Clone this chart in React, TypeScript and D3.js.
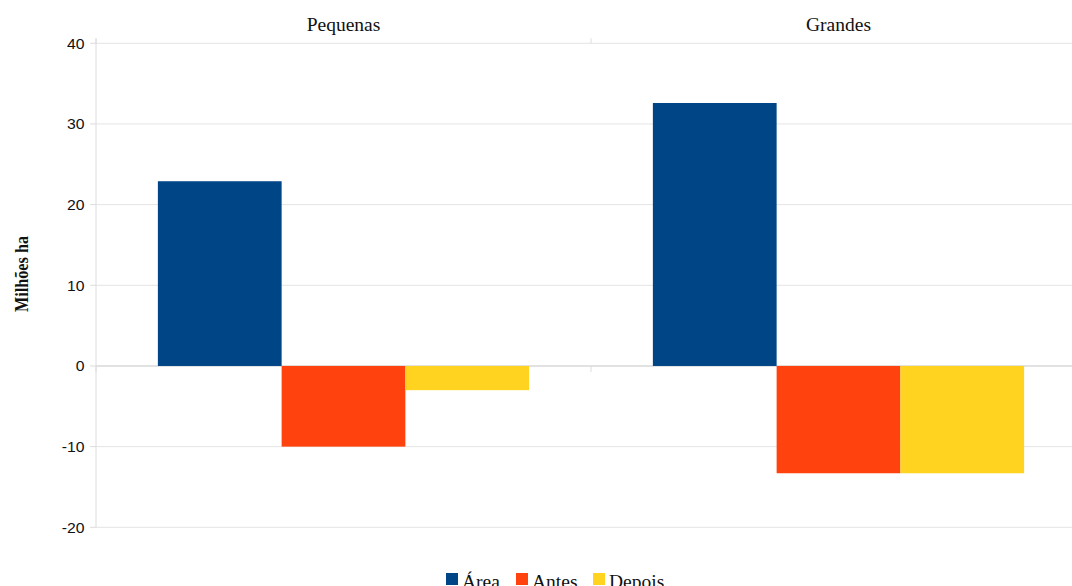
import React from "react";
import * as d3 from "d3";

const categories = ["Pequenas", "Grandes"];
const seriesNames = ["Área", "Antes", "Depois"];
const seriesColors = ["#004586", "#ff420e", "#ffd320"];
const areaValues = [22.9, 32.6];
const antesValues = [-10.0, -13.3];
const depoisValues = [-3.0, -13.3];
const yTicks = [40, 30, 20, 10, 0, -10, -20];

const W = 1072;
const H = 586;

export default function App() {
  const seriesValues = [areaValues, antesValues, depoisValues];
  const x0 = d3.scaleBand<string>().domain(categories).range([96, 1086]).paddingInner(0).paddingOuter(0);
  const x1 = d3
    .scaleBand<string>()
    .domain(seriesNames)
    .range([0, x0.bandwidth()])
    .paddingInner(0)
    .paddingOuter(0.5);
  const y = d3.scaleLinear().domain([-20, 40]).range([527.3, 43.3]);

  const boundaries = [96, ...categories.map((c) => (x0(c) as number) + x0.bandwidth())];

  const legendItems = [
    { name: seriesNames[0], x: 446 },
    { name: seriesNames[1], x: 516 },
    { name: seriesNames[2], x: 593 },
  ];

  return (
    <svg
      width={W}
      height={H}
      style={{ position: "absolute", left: 0, top: 0, background: "#fff" }}
    >
      <rect x={0} y={0} width={W} height={H} fill="#fff" />
      {/* gridlines */}
      {yTicks.map((t) => (
        <line
          key={"g" + t}
          x1={96}
          x2={1086}
          y1={y(t)}
          y2={y(t)}
          stroke={t === 0 ? "#d9d9d9" : "#e4e4e4"}
          strokeWidth={t === 0 ? 1.5 : 1}
        />
      ))}
      {/* left axis */}
      <line x1={96} x2={96} y1={38.3} y2={527.3} stroke="#dcdcdc" strokeWidth={1} />
      {yTicks.map((t) => (
        <line key={"t" + t} x1={90} x2={96} y1={y(t)} y2={y(t)} stroke="#dcdcdc" strokeWidth={1} />
      ))}
      {/* category boundary ticks */}
      {boundaries.map((b, i) => (
        <g key={"b" + i}>
          <line x1={b} x2={b} y1={38.3} y2={43.3} stroke="#dcdcdc" />
          <line x1={b} x2={b} y1={y(0)} y2={y(0) + 6} stroke="#dcdcdc" />
        </g>
      ))}
      {/* bars */}
      {categories.map((c, ci) => (
        <g key={c} transform={`translate(${x0(c)},0)`}>
          {seriesNames.map((s, si) => {
            const v = seriesValues[si][ci];
            const top = y(Math.max(0, v));
            const bottom = y(Math.min(0, v));
            return (
              <rect
                key={s}
                x={x1(s)}
                y={top}
                width={x1.bandwidth()}
                height={bottom - top}
                fill={seriesColors[si]}
              />
            );
          })}
        </g>
      ))}
      {/* y tick labels */}
      {yTicks.map((t) => (
        <text
          key={"l" + t}
          transform={`translate(84.5, ${y(t) + 5.4}) scale(1.05, 1)`}
          textAnchor="end"
          fontFamily="'Liberation Sans', Arial, sans-serif"
          fontSize={15}
          fill="#111"
        >
          {t}
        </text>
      ))}
      {/* category labels */}
      {categories.map((c) => (
        <text
          key={"c" + c}
          x={(x0(c) as number) + x0.bandwidth() / 2}
          y={30.5}
          textAnchor="middle"
          fontFamily="'Liberation Serif', 'Times New Roman', serif"
          fontSize={19.5}
          fill="#111"
        >
          {c}
        </text>
      ))}
      {/* y axis title */}
      <text
        transform="translate(27.5, 274) scale(1.15, 1) rotate(-90)"
        textAnchor="middle"
        fontFamily="'Liberation Serif', 'Times New Roman', serif"
        fontWeight="bold"
        fontSize={16.2}
        fill="#111"
      >
        Milhões ha
      </text>
      {/* legend */}
      {legendItems.map((it, i) => (
        <g key={"lg" + i}>
          <rect x={it.x} y={573} width={12} height={12} fill={seriesColors[i]} />
          <text
            x={it.x + 16}
            y={588}
            fontFamily="'Liberation Serif', 'Times New Roman', serif"
            fontSize={19.5}
            fill="#111"
          >
            {it.name}
          </text>
        </g>
      ))}
    </svg>
  );
}
